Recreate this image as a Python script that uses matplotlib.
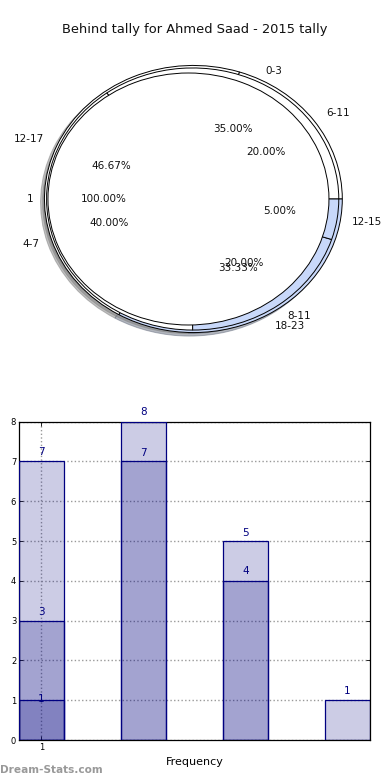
import matplotlib
matplotlib.use("Agg")
import matplotlib.pyplot as plt
import numpy as np

# ---- data ----
title = "Behind tally for Ahmed Saad - 2015 tally"

pie_a_labels = ["0-3", "4-7", "8-11", "12-15"]
pie_a_values = [7, 8, 4, 1]

pie_b_labels = ["6-11", "12-17", "18-23"]
pie_b_values = [3, 7, 5]

pie_c_labels = ["1"]
pie_c_values = [1]

bar_series = [pie_a_values, pie_b_values, pie_c_values]
bar_tick_labels = ["1"]
x_label = "Frequency"
watermark = "Dream-Stats.com"

# ---- style ----
WHITE = "white"
LBLUE = "#c8d8fa"
NAVY = "#000080"

fig = plt.figure(figsize=(3.9, 7.8), dpi=100)

fig.text(194.5 / 390, 1 - 30 / 780, title, ha="center", va="center", fontsize=9.35, color="#111111")

# ---- pie axes ----
ax1 = fig.add_axes([5.8 / 390, 1 - 362.8 / 780, 365.3 / 390, 327.6 / 780])
wp = dict(edgecolor="black", linewidth=0.7)
tp = dict(fontsize=7.5, color="#111111")
shadow_style = dict(ox=-0.02, oy=-0.02, shade=0.5, alpha=0.5)

ax1.pie(pie_b_values, labels=pie_b_labels, colors=[WHITE, WHITE, LBLUE],
        autopct="%.2f%%", startangle=0, shadow=shadow_style, radius=1.06,
        center=(0.035, 0.0), labeldistance=1.1, pctdistance=0.6,
        wedgeprops=wp, textprops=tp)
ax1.pie(pie_a_values, labels=pie_a_labels, colors=[WHITE, WHITE, LBLUE, LBLUE],
        autopct="%.2f%%", startangle=0, shadow=shadow_style, radius=1.04,
        center=(0.03, 0.0), labeldistance=1.1, pctdistance=0.6,
        wedgeprops=wp, textprops=tp)
ax1.pie(pie_c_values, labels=pie_c_labels, colors=[WHITE],
        autopct="%.2f%%", startangle=0, shadow=shadow_style, radius=1.0,
        center=(0.0, 0.0), labeldistance=1.1, pctdistance=0.6,
        wedgeprops=wp, textprops=tp)
ax1.set_aspect("auto")
ax1.set_xlim(-1.3, 1.3)
ax1.set_ylim(-1.3, 1.3)
ax1.axis("off")

# ---- bar axes ----
ax2 = fig.add_axes([19 / 390, 1 - 740 / 780, 351 / 390, 318.3 / 780])
width = 0.44
for series in bar_series:
    x = np.arange(len(series))
    ax2.bar(x, series, width=width, color=NAVY, alpha=0.2, zorder=2)
    ax2.bar(x, series, width=width, facecolor="none", edgecolor=NAVY, linewidth=0.9, zorder=3)
    off = 0.03 * max(series)
    for xi, v in zip(x, series):
        if v > 0:
            ax2.text(xi, v + off, str(v), ha="center", va="center", color=NAVY, fontsize=7.5, zorder=4)

n = max(len(s) for s in bar_series)
ax2.set_xlim(-width / 2, n - 1 + width / 2)
ax2.set_ylim(0, 8)
ax2.set_yticks(range(0, 9))
ax2.set_xticks(range(len(bar_tick_labels)))
ax2.set_xticklabels(bar_tick_labels)
ax2.tick_params(axis="both", labelsize=6, direction="in", length=3, width=0.6, right=True, top=True, pad=2)
ax2.grid(True, linestyle=":", color="#999999", linewidth=1.0, zorder=0)
ax2.set_axisbelow(True)
for s in ax2.spines.values():
    s.set_linewidth(0.9)
ax2.set_xlabel(x_label, fontsize=8, labelpad=4)

fig.text(0.0, 1 - 770 / 780, watermark, ha="left", va="center", fontsize=7.6, color="#999999", fontweight="bold")

fig.savefig("out.png", dpi=100)
